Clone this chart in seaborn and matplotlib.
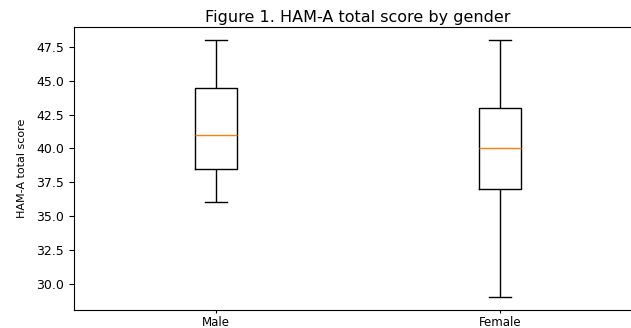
import pandas as pd
import seaborn as sns
import matplotlib.pyplot as plt

# five-number summaries (min, Q1, median, Q3, max)
genders = ["Male", "Female"]
male_scores = [36, 38.5, 41, 44.5, 48]
female_scores = [29, 37, 40, 43, 48]
title = "Figure 1. HAM-A total score by gender"
ylabel = "HAM-A total score"

df = pd.DataFrame({
    "gender": [genders[0]] * len(male_scores) + [genders[1]] * len(female_scores),
    "score": male_scores + female_scores,
})

fig = plt.figure(figsize=(6.31, 3.28), dpi=100)
# the reference is cropped on the right, so the axes run past the figure edge
ax = fig.add_axes([0.1173, 0.0549, 0.900, 0.8616])

sns.boxplot(
    data=df, x="gender", y="score", order=genders, ax=ax,
    width=0.15, fill=False, color="black", linewidth=1,
    medianprops={"color": "#ff7f0e"},
)

ax.set_xlabel("")
ax.set_ylabel(ylabel, family=["Liberation Sans Narrow", "DejaVu Sans"],
              fontsize=8, labelpad=7)
ax.set_title(title, fontsize=11.5, pad=4)
ax.tick_params(axis="y", labelsize=9)
ax.tick_params(axis="x", labelsize=8.5, length=2.5, pad=1.5)
for s in ax.spines.values():
    s.set_visible(True)

fig.savefig("out.png", dpi=100)
